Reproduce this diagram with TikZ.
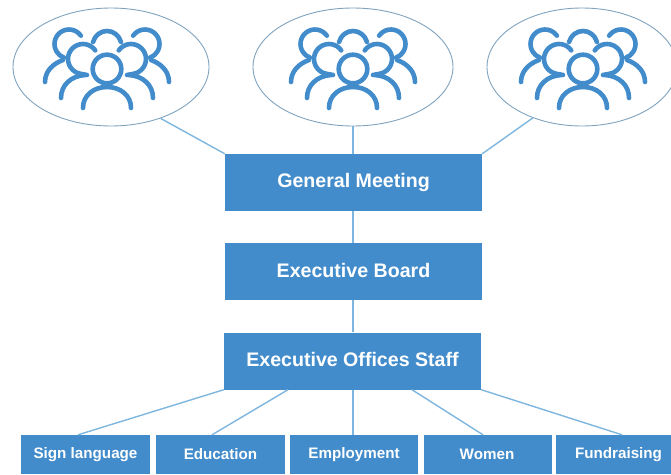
\documentclass[tikz,border=0pt]{standalone}
\usepackage{fontspec}
\setmainfont{Liberation Sans}
\usetikzlibrary{shapes.geometric,calc}
\definecolor{boxblue}{HTML}{428CCB}
\definecolor{linkblue}{HTML}{7DB6DE}
\definecolor{rimblue}{HTML}{7FA3BE}
\tikzset{
  x=1pt,y=-1pt,
  bigbox/.style={draw=none,fill=boxblue,text=white,inner sep=0pt,font=\bfseries\fontsize{19.6}{22}\selectfont,minimum width=257pt,minimum height=57pt},
  smallbox/.style={draw=none,fill=boxblue,text=white,inner sep=0pt,font=\bfseries\fontsize{15.2}{18}\selectfont,minimum height=39pt},
  crowd/.style={draw=rimblue,line width=0.9pt,ellipse,inner sep=0pt},
  link/.style={draw=linkblue,line width=1.4pt},
  person/.style={draw=boxblue,line width=4.6pt,line cap=round},
  peoplepic/.pic={
    \draw[person] (0,0) circle[radius=14.3];
    \draw[person] (-24,39) .. controls (-24,26) and (-13,18) .. (0,18) .. controls (13,18) and (24,26) .. (24,39);
    \draw[person] (-14,-27) .. controls (-12,-34) and (-6,-38) .. (0,-38) .. controls (6,-38) and (12,-34) .. (14,-27);
    \foreach \s in {1,-1}{
      \begin{scope}[xscale=\s]
        \draw[person] (-24,-10) ++(-35:15) arc[start angle=-35,end angle=-258,radius=15] -- (-20,6);
        \draw[person] (-46,29) .. controls (-46,16) and (-36,7) .. (-22,6);
        \draw[person] (-38,-25) ++(-35:14.5) arc[start angle=-35,end angle=-250,radius=14.5];
        \draw[person] (-62,13) .. controls (-62,3) and (-55,-5) .. (-44,-9);
      \end{scope}
    }
  }
}
\begin{document}
\begin{tikzpicture}
\useasboundingbox (0,0) rectangle (671,474);
\clip (0,0) rectangle (671,474);
\node[crowd,minimum width=196pt,minimum height=118pt] (e1) at (111,67) {};
\node[crowd,minimum width=200pt,minimum height=118pt] (e2) at (353,67) {};
\node[crowd,minimum width=190pt,minimum height=118pt] (e3) at (582,67) {};
\pic at (107,69) {peoplepic};
\pic at (353,69) {peoplepic};
\pic at (583,69) {peoplepic};
\node[bigbox] (gm) at (353.5,182.5) {\raisebox{1.5pt}{General Meeting}};
\node[bigbox] (eb) at (353.5,271.5) {\raisebox{2.5pt}{Executive Board}};
\node[bigbox] (st) at (352.5,361) {\raisebox{3pt}{Executive Offices Staff}};
\node[smallbox,minimum width=129pt] (b1) at (85.5,454.5) {\raisebox{-1pt}{Sign language}};
\node[smallbox,minimum width=129pt] (b2) at (220.5,454.5) {\raisebox{-1pt}{Education}};
\node[smallbox,minimum width=128pt] (b3) at (354,454.5) {\raisebox{-1pt}{Employment}};
\node[smallbox,minimum width=128pt] (b4) at (488,454.5) {\raisebox{-1pt}{\hspace{-2pt}Women}};
\node[smallbox,minimum width=115pt] (b5) at (613.5,454.5) {\raisebox{-1pt}{\hspace{10pt}Fundraising}};
\draw[link] (e1.-46) -- (gm.north west);
\draw[link] (e2.south) -- (e2.south |- gm.north);
\draw[link] (e3.-134) -- (gm.north east);
\draw[link] (e2.south |- gm.south) -- (e2.south |- eb.north);
\draw[link] (e2.south |- eb.south) -- (e2.south |- st.north);
\draw[link] (st.south west) -- ([xshift=-7.5pt]b1.north);
\draw[link] ([xshift=-64.5pt]st.south) -- ([xshift=-8.5pt]b2.north);
\draw[link] (e2.south |- st.south) -- (e2.south |- b3.north);
\draw[link] ([xshift=59.5pt]st.south) -- ([xshift=-5pt]b4.north);
\draw[link] (st.south east) -- ([xshift=8.5pt]b5.north);
\end{tikzpicture}
\end{document}
